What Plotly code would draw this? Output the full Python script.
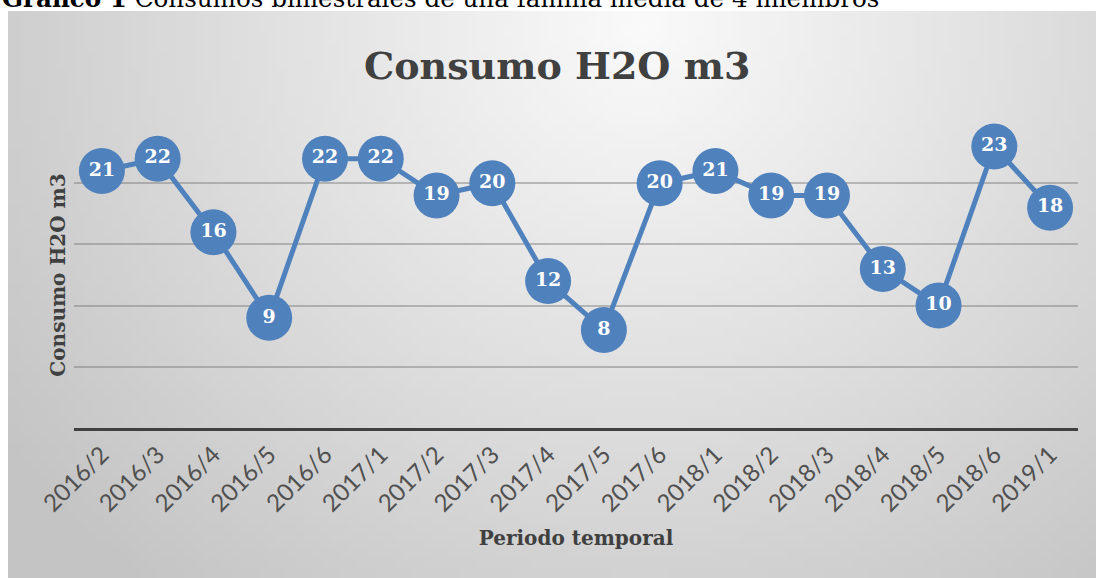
import base64, struct, zlib
import plotly.graph_objects as go

periods = ["2016/2", "2016/3", "2016/4", "2016/5", "2016/6", "2017/1", "2017/2", "2017/3",
           "2017/4", "2017/5", "2017/6", "2018/1", "2018/2", "2018/3", "2018/4", "2018/5",
           "2018/6", "2019/1"]
consumo = [21, 22, 16, 9, 22, 22, 19, 20, 12, 8, 20, 21, 19, 19, 13, 10, 23, 18]

title_text = "Consumo H2O m3"
y_title = "Consumo H2O m3"
x_title = "Periodo temporal"
caption_bold = "Gráfico 1"
caption_rest = " Consumos bimestrales de una familia media de 4 miembros"


def gradient_png(w=120, h=64):
    rows = b""
    cx, cy = 0.58, 0.02
    for j in range(h):
        row = b"\x00"
        for i in range(w):
            dx = (i / (w - 1) - cx) * 1.0
            dy = (j / (h - 1) - cy) * 0.55
            d = (dx * dx + dy * dy) ** 0.5 / 0.72
            d = min(d, 1.0)
            v = int(round(250 - (250 - 196) * d))
            row += bytes([v, v, v])
        rows += row

    def chunk(t, data):
        c = struct.pack(">I", len(data)) + t + data
        return c + struct.pack(">I", zlib.crc32(t + data) & 0xffffffff)

    png = b"\x89PNG\r\n\x1a\n"
    png += chunk(b"IHDR", struct.pack(">IIBBBBB", w, h, 8, 2, 0, 0, 0))
    png += chunk(b"IDAT", zlib.compress(rows, 9))
    png += chunk(b"IEND", b"")
    return "data:image/png;base64," + base64.b64encode(png).decode()


W, H = 1096, 578
L, R, T, B = 74, 18, 122, 150
pw, ph = W - L - R, H - T - B


def px(xp):
    return (xp - L) / pw


def py(yp):
    return (H - B - yp) / ph


blue = "#4f81bd"
serif = "DejaVu Serif"

fig = go.Figure()
fig.add_trace(go.Scatter(
    x=periods, y=consumo, mode="lines+markers+text",
    line=dict(color=blue, width=5),
    marker=dict(size=46, color=blue),
    text=[str(v) for v in consumo], textposition="middle center",
    textfont=dict(family=serif, size=19, color="white", weight="bold"),
    cliponaxis=False, hoverinfo="skip", showlegend=False,
))

fig.update_layout(
    width=W, height=H,
    margin=dict(l=L, r=R, t=T, b=B),
    paper_bgcolor="white",
    plot_bgcolor="rgba(0,0,0,0)",
    images=[dict(source=gradient_png(), xref="paper", yref="paper",
                 x=px(8), y=py(11), sizex=px(1100) - px(8), sizey=py(11) - py(580),
                 xanchor="left", yanchor="top", sizing="stretch", layer="below")],
    xaxis=dict(type="category", range=[-0.5, len(periods) - 0.5],
               showline=True, linecolor="#404040", linewidth=3,
               showgrid=False, ticks="", tickangle=-45,
               tickfont=dict(family="Lato", size=24, color="#505050"),
               title=dict(text=x_title, font=dict(family=serif, size=20, color="#404040", weight="bold"),
                          standoff=16)),
    yaxis=dict(range=[0, 25], dtick=5, showticklabels=False, showgrid=True,
               gridcolor="rgba(120,120,120,0.45)", gridwidth=1.5, zeroline=False,
               showline=False, ticks="",
               title=dict(text=y_title, font=dict(family=serif, size=20, color="#404040", weight="bold"),
                          standoff=2)),
    annotations=[
        dict(text=title_text, xref="paper", yref="paper", x=px(557), y=py(65),
             xanchor="center", yanchor="middle", showarrow=False,
             font=dict(family=serif, size=38, color="#404040", weight="bold")),
        dict(text="<b>" + caption_bold + "</b>" + caption_rest, xref="paper", yref="paper",
             x=px(0), y=py(-2), xanchor="left", yanchor="middle", showarrow=False,
             font=dict(family=serif, size=24.6, color="black")),
    ],
)

fig.write_html("out.html", config={"displayModeBar": False},
               post_script="document.body.style.margin='0';")
